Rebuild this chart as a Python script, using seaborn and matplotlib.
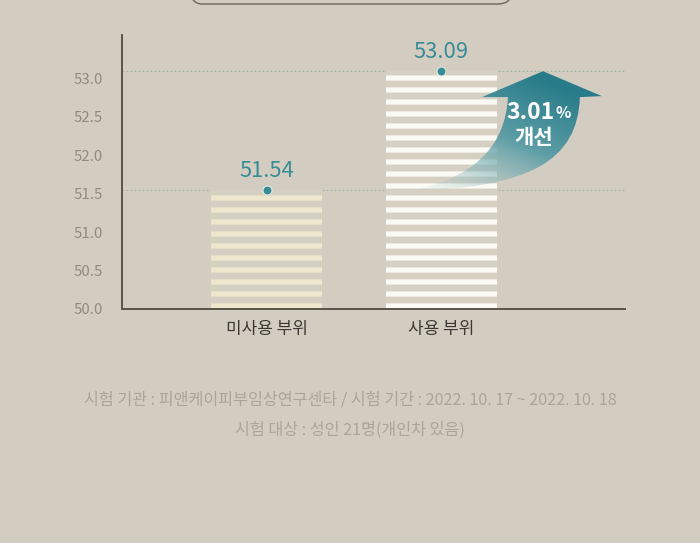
import numpy as np
import pandas as pd
import seaborn as sns
import matplotlib.pyplot as plt
from matplotlib.path import Path
from matplotlib.patches import PathPatch, FancyBboxPatch
from matplotlib.transforms import IdentityTransform

# values
parts = ['미사용 부위', '사용 부위']
scores = [51.54, 53.09]
score_labels = ['51.54', '53.09']
y_ticks = [50.0, 50.5, 51.0, 51.5, 52.0, 52.5, 53.0]
gain_number = '3.01'
gain_word = '개선'
notes = ['시험 기관 : 피앤케이피부임상연구센타 / 시험 기간 : 2022. 10. 17 ~ 2022. 10. 18',
         '시험 대상 : 성인 21명(개인차 있음)']

bg = '#d3cdc1'
teal = '#378c96'

sns.set_style('white')
plt.rcParams['font.family'] = ['Noto Sans CJK KR', 'DejaVu Sans']
plt.rcParams['hatch.linewidth'] = 5.2

fig = plt.figure(figsize=(700 / 72, 543 / 72), dpi=72, facecolor=bg)
ax = fig.add_axes([122 / 700, 1 - 309 / 543, 503 / 700, 274 / 543])
ax.set_facecolor(bg)

df = pd.DataFrame({'part': parts, 'score': scores})

for v in scores:
    ax.axhline(v, color='#a3b6a4', ls=(0, (2, 2)), lw=1, zorder=1)

sns.barplot(data=df, x='part', y='score', width=0.634, hatch='-', ax=ax, zorder=2)
for bar, stripe in zip(ax.patches, ['#efe7cd', '#fcfaf4']):
    bar.set_facecolor('#d6d0c3')
    bar.set_edgecolor(stripe)
    bar.set_linewidth(0)

# curved gradient arrow from the first value up to the second
v1, v2 = scores
verts = [(1.791, 52.753), (1.780, 51.935), (1.506, v1 + 0.03), (0.831, v1),
         (1.163, 51.701), (1.363, 52.065), (1.380, 52.753),
         (1.231, 52.753), (1.580, v2), (1.917, 52.766), (1.791, 52.753)]
codes = [Path.MOVETO, Path.CURVE4, Path.CURVE4, Path.CURVE4,
         Path.CURVE4, Path.CURVE4, Path.CURVE4,
         Path.LINETO, Path.LINETO, Path.LINETO, Path.CLOSEPOLY]
arrow = PathPatch(Path(verts, codes), transform=ax.transData,
                  facecolor='none', edgecolor='none', zorder=4)
ax.add_patch(arrow)

xs = np.linspace(0.8, 1.95, 300)
ys = np.linspace(51.45, 53.15, 300)
gx, gy = np.meshgrid(xs, ys)
t = np.clip(0.65 * (gy - 51.55) / 1.4 + 0.45 * (gx - 0.83) / 1.0, 0, 1)
light = np.array([160, 200, 203]) / 255
dark = np.array([40, 124, 137]) / 255
rgba = np.zeros(gx.shape + (4,))
rgba[..., :3] = light + (dark - light) * t[..., None]
rgba[..., 3] = np.clip(t * 1.8, 0.1, 1)
im = ax.imshow(rgba, extent=[xs[0], xs[-1], ys[0], ys[-1]], origin='lower',
               aspect='auto', interpolation='bilinear', zorder=4)
im.set_clip_path(arrow)

ax.text(1.649, 52.558, gain_number, ha='right', va='center', fontsize=23,
        fontweight='bold', color='white', zorder=6)
ax.text(1.652, 52.55, '%', ha='left', va='center', fontsize=16,
        fontweight='bold', color='white', zorder=6)
ax.text(1.529, 52.234, gain_word, ha='center', va='center', fontsize=21,
        fontweight='bold', color='white', zorder=6)

sns.scatterplot(data=df, x='part', y='score', s=80, color=teal,
                edgecolor='#e8ebe3', linewidth=1, zorder=5, ax=ax, legend=False)
for i, (v, lab) in enumerate(zip(scores, score_labels)):
    ax.annotate(lab, (i, v), xytext=(0, 19), textcoords='offset points',
                ha='center', va='center', fontsize=22, color=teal, zorder=6)

ax.set_xlim(-0.826, 2.049)
ax.set_ylim(50, 53.56)
ax.set_yticks(y_ticks)
ax.set_yticklabels([f'{t:.1f}' for t in y_ticks])
ax.set_xlabel('')
ax.set_ylabel('')
ax.tick_params(axis='y', length=0, pad=19, labelsize=15, labelcolor='#928b80')
ax.tick_params(axis='x', length=0, pad=11, labelsize=17, labelcolor='#3b3733')
for side in ['top', 'right']:
    ax.spines[side].set_visible(False)
for side in ['left', 'bottom']:
    ax.spines[side].set_color('#5f564b')
    ax.spines[side].set_linewidth(2)

# top frame, mostly cut off by the figure edge
frame = FancyBboxPatch((188, 539), 324, 40, boxstyle='round,pad=0,rounding_size=14',
                       transform=IdentityTransform(), facecolor='none',
                       edgecolor='#756b5f', lw=1.5)
fig.add_artist(frame)

fig.text(0.5, 1 - 400 / 543, notes[0], ha='center', va='center', fontsize=16.2, color='#aca597')
fig.text(0.5, 1 - 430 / 543, notes[1], ha='center', va='center', fontsize=16.2, color='#aca597')

fig.savefig('out.png', dpi=72, facecolor=bg)
